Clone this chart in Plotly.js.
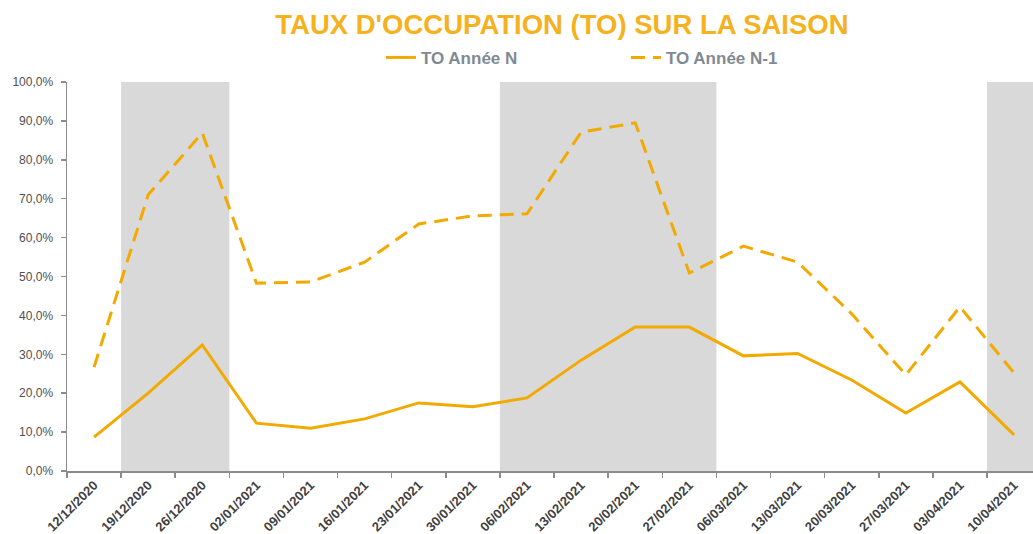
<!DOCTYPE html>
<html>
<head>
<meta charset="utf-8">
<script src="https://cdn.plot.ly/plotly-3.0.1.min.js"></script>
<style>html,body{margin:0;padding:0;background:#fff;}#chart{width:1033px;height:534px;}</style>
</head>
<body>
<div id="chart"></div>
<script>
const weeks = ["12/12/2020","19/12/2020","26/12/2020","02/01/2021","09/01/2021","16/01/2021","23/01/2021","30/01/2021","06/02/2021","13/02/2021","20/02/2021","27/02/2021","06/03/2021","13/03/2021","20/03/2021","27/03/2021","03/04/2021","10/04/2021"];
const toAnneeN = [8.7,20.0,32.4,12.3,11.0,13.4,17.5,16.5,18.8,28.5,37.0,37.0,29.6,30.2,23.4,14.9,22.9,9.3];
const toAnneeN1 = [26.7,71.0,86.9,48.3,48.6,53.7,63.5,65.6,66.1,87.1,89.5,50.9,57.8,53.7,40.4,24.7,42.2,25.2];
// holiday periods shaded (first and last week of each)
const holidayStart = ["19/12/2020","06/02/2021","10/04/2021"];
const holidayEnd = ["26/12/2020","27/02/2021","10/04/2021"];

const lineColor = "#F2A900";
const traces = [
  {x: weeks, y: toAnneeN, name: "TO Année N", type: "scatter", mode: "lines",
   line: {color: lineColor, width: 3}},
  {x: weeks, y: toAnneeN1, name: "TO Année N-1", type: "scatter", mode: "lines",
   line: {color: lineColor, width: 3, dash: "14px,8px"}}
];

const shapes = holidayStart.map((s, i) => ({
  type: "rect", xref: "x", yref: "paper", layer: "below",
  x0: weeks.indexOf(s) - 0.5, x1: weeks.indexOf(holidayEnd[i]) + 0.5,
  y0: 0, y1: 1, fillcolor: "#D9D9D9", line: {width: 0}
}));

const FONT = "Liberation Sans, Arial, sans-serif";
const layout = {
  width: 1033, height: 534,
  margin: {l: 67, r: 0, t: 82, b: 63},
  paper_bgcolor: "#fff", plot_bgcolor: "#fff",
  separators: ", ",
  font: {family: FONT, color: "#595959"},
  title: {text: "<b>TAUX D'OCCUPATION (TO) SUR LA SAISON</b>",
          font: {size: 27.5, color: "#F5B120", family: FONT},
          x: 0.544, xanchor: "center", y: 0.955, yanchor: "middle"},
  showlegend: true,
  legend: {orientation: "h", x: 0.325, xanchor: "left", y: 1.062, yanchor: "middle",
           entrywidth: 200, entrywidthmode: "pixels", itemwidth: 30,
           font: {size: 17, color: "#7F8A93", family: FONT, weight: "bold"},
           bgcolor: "rgba(0,0,0,0)"},
  xaxis: {type: "category", range: [-0.5, 17.35], tickson: "boundaries",
          showline: true, linecolor: "#8C8C8C", linewidth: 1.5,
          ticks: "outside", ticklen: 5, tickcolor: "#8C8C8C", tickwidth: 1.5,
          tickangle: -45, showgrid: false, zeroline: false, automargin: false,
          tickfont: {size: 13, color: "#404040", weight: "bold"}},
  yaxis: {range: [0, 100], dtick: 10, tick0: 0, tickformat: ".1f", ticksuffix: "%",
          showline: true, linecolor: "#8C8C8C", linewidth: 1.5,
          ticks: "outside", ticklen: 5, tickcolor: "#8C8C8C", tickwidth: 1.5,
          ticklabelstandoff: 5,
          showgrid: false, zeroline: false, automargin: false,
          tickfont: {size: 12, color: "#4F4F4F"}},
  shapes: shapes
};

Plotly.newPlot("chart", traces, layout, {displayModeBar: false, staticPlot: true});
</script>
</body>
</html>
